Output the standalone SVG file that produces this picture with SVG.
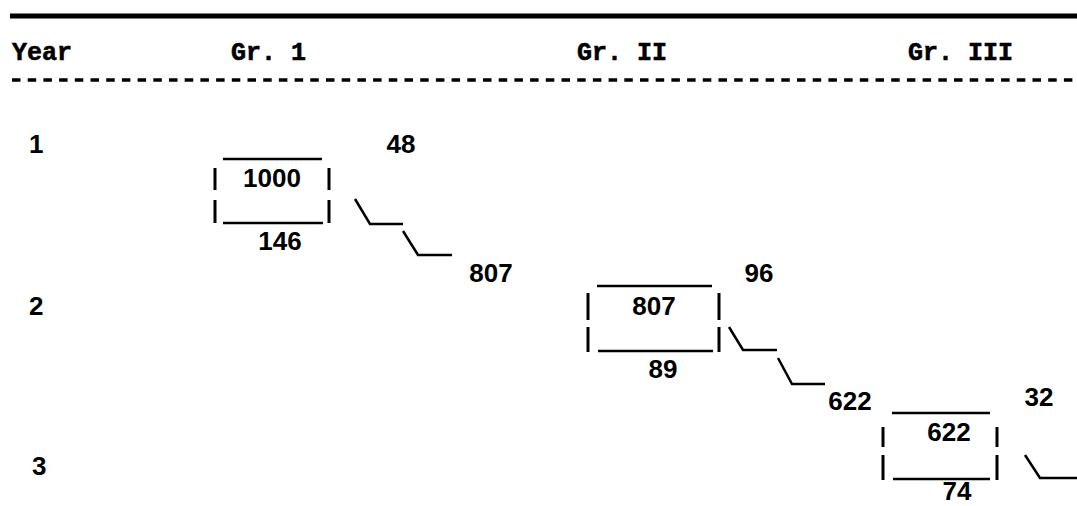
<svg xmlns="http://www.w3.org/2000/svg" width="1077" height="506" viewBox="0 0 1077 506">
<style>
.hd{font-family:"Liberation Mono","Courier New",monospace;font-weight:bold;font-size:25px;fill:#000;stroke:#000;stroke-width:0.6}
.num{font-family:"Liberation Sans",Arial,sans-serif;font-weight:bold;font-size:26px;fill:#000}
.ln{stroke:#000;stroke-width:2.5;fill:none}
.bar{stroke:#000;stroke-width:3;fill:none}
</style>
<rect width="1077" height="506" fill="#fff"/>
<g id="header">
<line x1="10" y1="16" x2="1077" y2="16" stroke="#000" stroke-width="5"/>
<text class="hd" x="12" y="60">Year</text>
<text class="hd" x="231" y="60">Gr. 1</text>
<text class="hd" x="577" y="60">Gr. II</text>
<text class="hd" x="908" y="60">Gr. III</text>
<line x1="12" y1="80" x2="1077" y2="80" stroke="#000" stroke-width="3.5" stroke-dasharray="8.5 7.2"/>
</g>
<g id="years">
<text class="num" x="29" y="153">1</text>
<text class="num" x="29" y="315">2</text>
<text class="num" x="32" y="475">3</text>
</g>
<g id="box1">
<line class="ln" x1="223" y1="159" x2="322" y2="159"/>
<line class="ln" x1="223" y1="223" x2="323" y2="223"/>
<line class="bar" x1="215" y1="168" x2="215" y2="190"/>
<line class="bar" x1="215" y1="200" x2="215" y2="223"/>
<line class="bar" x1="329" y1="168" x2="329" y2="190"/>
<line class="bar" x1="329" y1="200" x2="329" y2="223"/>
<text class="num" x="272" y="187" text-anchor="middle">1000</text>
<text class="num" x="280" y="250" text-anchor="middle">146</text>
<text class="num" x="401" y="153" text-anchor="middle">48</text>
</g>
<g id="box2">
<line class="ln" x1="597" y1="286" x2="712" y2="286"/>
<line class="ln" x1="598" y1="351" x2="713" y2="351"/>
<line class="bar" x1="588" y1="293" x2="588" y2="320"/>
<line class="bar" x1="588" y1="327" x2="588" y2="352"/>
<line class="bar" x1="719" y1="293" x2="719" y2="320"/>
<line class="bar" x1="719" y1="327" x2="719" y2="352"/>
<text class="num" x="654" y="315" text-anchor="middle">807</text>
<text class="num" x="663" y="378" text-anchor="middle">89</text>
<text class="num" x="759" y="282" text-anchor="middle">96</text>
</g>
<g id="box3">
<line class="ln" x1="892" y1="413" x2="990" y2="413"/>
<line class="ln" x1="893" y1="479" x2="990" y2="479"/>
<line class="bar" x1="883" y1="427" x2="883" y2="447"/>
<line class="bar" x1="883" y1="455" x2="883" y2="480"/>
<line class="bar" x1="997" y1="427" x2="997" y2="447"/>
<line class="bar" x1="997" y1="455" x2="997" y2="480"/>
<text class="num" x="949" y="441" text-anchor="middle">622</text>
<text class="num" x="957" y="500" text-anchor="middle">74</text>
<text class="num" x="1039" y="406" text-anchor="middle">32</text>
</g>
<g id="transitions">
<text class="num" x="491" y="282" text-anchor="middle">807</text>
<text class="num" x="850" y="410" text-anchor="middle">622</text>
</g>
<g id="connectors">
<polyline class="ln" points="355,199 370,224 403,224"/>
<polyline class="ln" points="403,231 418,255 452,255"/>
<polyline class="ln" points="729,327 743,350 777,350"/>
<polyline class="ln" points="778,358 792,384 825,384"/>
<polyline class="ln" points="1025,455 1040,478 1077,478"/>
</g>
</svg>
